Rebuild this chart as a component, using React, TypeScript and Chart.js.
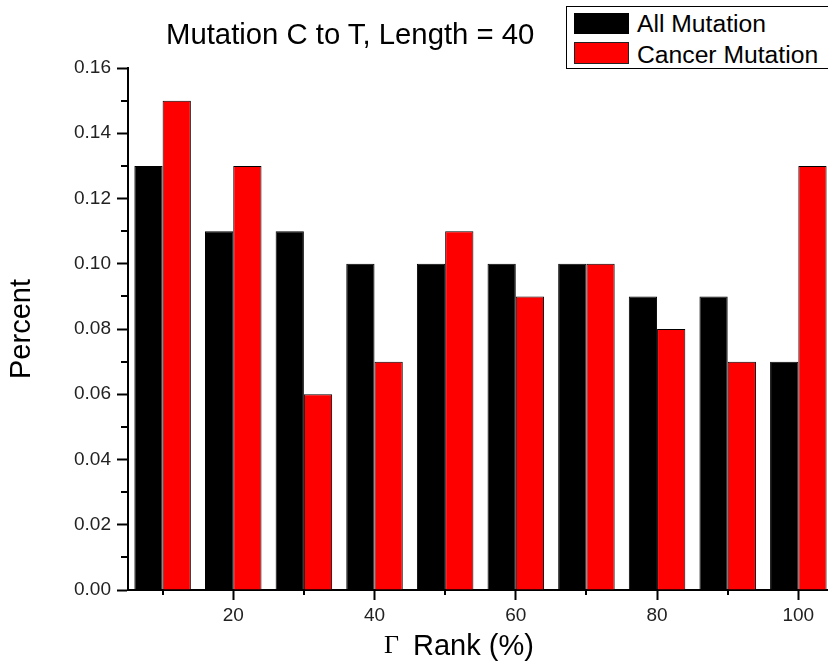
import { useEffect, useRef } from "react";
import { Chart, registerables } from "chart.js";

Chart.register(...registerables);

// ---- data ----
const rankGroups = [10, 20, 30, 40, 50, 60, 70, 80, 90, 100];
const allMutation = [0.13, 0.11, 0.11, 0.1, 0.1, 0.1, 0.1, 0.09, 0.09, 0.07];
const cancerMutation = [0.15, 0.13, 0.06, 0.07, 0.11, 0.09, 0.1, 0.08, 0.07, 0.13];
const xMinorTicks = [10, 30, 50, 70, 90];
const yMinorTicks = [0.01, 0.03, 0.05, 0.07, 0.09, 0.11, 0.13, 0.15];
const seriesNames = ["All Mutation", "Cancer Mutation"];
const seriesColors = ["#000000", "#ff0000"];
const titleText = "Mutation C to T, Length = 40";
const yTitle = "Percent";
const xTitleSymbol = "Γ";
const xTitleText = "Rank (%)";

const FONT = '"Liberation Sans", Arial, Helvetica, sans-serif';

const minorTicksPlugin = {
  id: "minorTicks",
  afterDraw(chart: any) {
    const { ctx, chartArea } = chart;
    const xs = chart.scales.x;
    const ys = chart.scales.y;
    ctx.save();
    ctx.strokeStyle = "#000";
    ctx.lineWidth = 2;
    xMinorTicks.forEach((v) => {
      const px = Math.round(xs.getPixelForValue(v));
      ctx.beginPath();
      ctx.moveTo(px, chartArea.bottom);
      ctx.lineTo(px, chartArea.bottom + 5);
      ctx.stroke();
    });
    yMinorTicks.forEach((v) => {
      const py = Math.round(ys.getPixelForValue(v));
      ctx.beginPath();
      ctx.moveTo(chartArea.left, py);
      ctx.lineTo(chartArea.left - 7, py);
      ctx.stroke();
    });
    ctx.restore();
  },
};

export default function App() {
  const canvasRef = useRef<HTMLCanvasElement | null>(null);

  useEffect(() => {
    if (!canvasRef.current) return;
    const chart = new Chart(canvasRef.current, {
      type: "bar",
      data: {
        datasets: [
          {
            label: seriesNames[0],
            data: rankGroups.map((x, i) => ({ x, y: allMutation[i] })),
            backgroundColor: seriesColors[0],
            borderColor: "#000",
            borderWidth: 1,
            categoryPercentage: 0.8,
            barPercentage: 1,
          },
          {
            label: seriesNames[1],
            data: rankGroups.map((x, i) => ({ x, y: cancerMutation[i] })),
            backgroundColor: seriesColors[1],
            borderColor: "#000",
            borderWidth: 1,
            categoryPercentage: 0.8,
            barPercentage: 1,
          },
        ],
      } as any,
      options: {
        animation: false,
        responsive: true,
        maintainAspectRatio: false,
        layout: { padding: { top: 68, right: 0, bottom: 0, left: 0 } },
        plugins: {
          legend: { display: false },
          title: { display: false },
          tooltip: { enabled: false },
        },
        scales: {
          x: {
            type: "linear",
            min: 5.1,
            max: 104.2,
            offset: false,
            grid: {
              offset: false,
              drawOnChartArea: false,
              drawTicks: true,
              tickLength: 10,
              tickWidth: 2,
              tickColor: "#000",
            },
            border: { display: true, color: "#000", width: 2 },
            ticks: {
              stepSize: 20,
              includeBounds: false,
              maxRotation: 0,
              autoSkip: false,
              padding: 4,
              color: "#222",
              font: { family: FONT, size: 19 },
            },
            afterFit: (s: any) => {
              s.height = 79;
            },
          },
          y: {
            type: "linear",
            min: 0,
            max: 0.16,
            grid: {
              drawOnChartArea: false,
              drawTicks: true,
              tickLength: 11,
              tickWidth: 2,
              tickColor: "#000",
            },
            border: { display: true, color: "#000", width: 2 },
            ticks: {
              stepSize: 0.02,
              padding: 6,
              color: "#222",
              font: { family: FONT, size: 19 },
              callback: (v: any) => Number(v).toFixed(2),
            },
            title: {
              display: true,
              text: yTitle,
              color: "#000",
              font: { family: FONT, size: 29, weight: "normal" },
              padding: { top: 5, bottom: 0 },
            },
            afterFit: (s: any) => {
              s.width = 128;
            },
          },
        },
      } as any,
      plugins: [minorTicksPlugin],
    });
    return () => chart.destroy();
  }, []);

  const textBase: any = {
    position: "absolute",
    whiteSpace: "nowrap",
    fontFamily: FONT,
    color: "#000",
  };

  return (
    <div
      style={{
        position: "fixed",
        left: 0,
        top: 0,
        width: 828,
        height: 669,
        overflow: "hidden",
        background: "#fff",
      }}
    >
      <div style={{ position: "absolute", left: 0, top: 0, width: 828, height: 669 }}>
        <canvas ref={canvasRef} />
      </div>
      <div style={{ ...textBase, left: 166, top: 18.5, fontSize: 29.3, lineHeight: "29px" }}>
        {titleText}
      </div>
      <div
        style={{
          position: "absolute",
          left: 566,
          top: 6,
          width: 300,
          height: 63,
          border: "1px solid #000",
          boxSizing: "border-box",
          background: "#fff",
        }}
      />
      <div
        style={{
          position: "absolute",
          left: 574,
          top: 13,
          width: 55,
          height: 21,
          background: seriesColors[0],
          border: "1px solid #000",
          boxSizing: "border-box",
        }}
      />
      <div
        style={{
          position: "absolute",
          left: 574,
          top: 42,
          width: 55,
          height: 22,
          background: seriesColors[1],
          border: "1px solid #222",
          boxSizing: "border-box",
        }}
      />
      <div style={{ ...textBase, left: 637, top: 11, fontSize: 24.7, lineHeight: "25px" }}>
        {seriesNames[0]}
      </div>
      <div style={{ ...textBase, left: 637, top: 42, fontSize: 24.7, lineHeight: "25px" }}>
        {seriesNames[1]}
      </div>
      <div
        style={{
          ...textBase,
          left: 384,
          top: 631,
          fontSize: 26,
          lineHeight: "28px",
          fontFamily: '"Liberation Serif", serif',
        }}
      >
        {xTitleSymbol}
      </div>
      <div style={{ ...textBase, left: 413, top: 630.5, fontSize: 29, lineHeight: "29px" }}>
        {xTitleText}
      </div>
    </div>
  );
}
